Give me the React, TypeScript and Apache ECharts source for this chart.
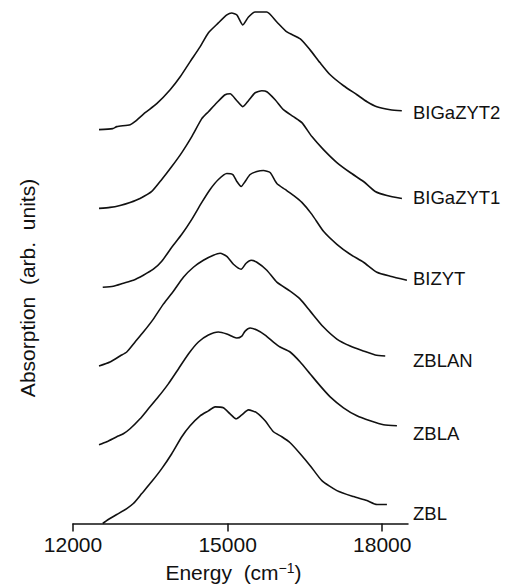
import React, { useEffect, useRef } from "react";
import * as echarts from "echarts";

// Energy (cm^-1) and absorption (arb. units, vertically offset) for each glass
const bigazyt2E = [12505, 12770, 12850, 13110, 13200, 13400, 13625, 13885, 14080, 14270, 14465, 14625, 14820, 14985, 15080, 15180, 15295, 15405, 15535, 15760, 15955, 16150, 16410, 16600, 16795, 16990, 17250, 17510, 17705, 17895, 18155, 18380];
const bigazyt2A = [395, 396, 398, 400, 403, 412, 421, 435, 448, 463, 478, 492, 502, 510, 512, 510, 500, 508, 513, 513, 503, 493, 486, 475, 462, 450, 439, 430, 423, 418, 415, 414];

const bigazyt1E = [12505, 12718, 12913, 13107, 13301, 13528, 13722, 13916, 14111, 14305, 14499, 14627, 14790, 14951, 15048, 15179, 15295, 15404, 15534, 15664, 15761, 15922, 16083, 16278, 16441, 16635, 16860, 17120, 17378, 17637, 17864, 18091, 18382];
const bigazyt1A = [316, 317, 319, 322, 326, 333, 345, 358, 372, 388, 406, 413, 422, 430, 431, 424, 418, 424, 432, 434, 433, 425, 415, 408, 402, 388, 375, 362, 352, 343, 333, 329, 326];

const bizytE = [12577, 12782, 12977, 13171, 13365, 13559, 13722, 13916, 14111, 14305, 14499, 14660, 14821, 14984, 15101, 15179, 15262, 15340, 15437, 15567, 15695, 15825, 15955, 16116, 16278, 16441, 16635, 16860, 17120, 17378, 17637, 17897, 18155, 18479];
const bizytA = [237, 238, 241, 244, 249, 255, 263, 277, 290, 305, 322, 335, 345, 351, 350, 343, 338, 343, 350, 353, 354, 352, 341, 335, 329, 322, 310, 293, 280, 270, 262, 252, 248, 244];

const zblanE = [12505, 12718, 12913, 13043, 13204, 13365, 13559, 13753, 13948, 14142, 14336, 14530, 14724, 14854, 14984, 15113, 15262, 15359, 15456, 15567, 15761, 15955, 16213, 16408, 16602, 16860, 17120, 17378, 17637, 17864, 18058];
const zblanA = [158, 162, 168, 172, 182, 192, 205, 220, 233, 247, 257, 264, 269, 271, 268, 260, 255, 261, 264, 262, 254, 242, 233, 225, 213, 197, 185, 178, 173, 169, 168];

const zblaE = [12505, 12654, 12849, 12977, 13107, 13301, 13462, 13656, 13850, 14045, 14239, 14433, 14627, 14821, 14984, 15113, 15179, 15276, 15340, 15437, 15567, 15728, 15889, 16019, 16213, 16408, 16602, 16796, 16990, 17248, 17509, 17767, 18025, 18285];
const zblaA = [79, 82, 87, 90, 95, 105, 115, 127, 140, 155, 170, 182, 189, 192, 190, 187, 186, 188, 193, 196, 194, 189, 182, 177, 172, 162, 150, 138, 127, 116, 108, 103, 99, 98];

const zblE = [12577, 12685, 12849, 13043, 13171, 13334, 13528, 13722, 13916, 14111, 14272, 14466, 14627, 14757, 14918, 15048, 15165, 15276, 15404, 15567, 15728, 15889, 16052, 16213, 16408, 16602, 16829, 17120, 17443, 17703, 17897, 18091];
const zblA = [0, 4, 9, 15, 20, 30, 42, 55, 70, 87, 98, 108, 113, 117, 116, 110, 105, 109, 114, 111, 103, 92, 87, 81, 70, 58, 43, 33, 27, 23, 19, 19];

const seriesNames = ["BIGaZYT2", "BIGaZYT1", "BIZYT", "ZBLAN", "ZBLA", "ZBL"];
const seriesE = [bigazyt2E, bigazyt1E, bizytE, zblanE, zblaE, zblE];
const seriesA = [bigazyt2A, bigazyt1A, bizytA, zblanA, zblaA, zblA];

const xTicks = [12000, 15000, 18000];

// label anchor rows (pixel y centers) for right-hand sample names
const labelY = [112, 197, 278, 360, 433, 513];

export default function App() {
  const ref = useRef<HTMLDivElement>(null);
  useEffect(() => {
    if (!ref.current) return;
    const chart = echarts.init(ref.current, null, { renderer: "svg" });
    const font = "'Liberation Sans', Arial, Helvetica, sans-serif";
    chart.setOption({
      animation: false,
      backgroundColor: "#ffffff",
      grid: { left: 73, right: 101, top: 5, bottom: 63, containLabel: false },
      xAxis: {
        type: "value",
        min: 12000,
        max: 18500,
        name: "Energy  (cm{sup|−1})",
        nameLocation: "middle",
        nameGap: 37,
        nameTextStyle: {
          fontFamily: font,
          fontSize: 21,
          color: "#111",
          padding: [0, 14, 0, 0],
          rich: {
            sup: { fontFamily: font, fontSize: 14, color: "#111", verticalAlign: "top", padding: [0, 0, 10, 0] },
          },
        },
        axisLine: { show: true, lineStyle: { color: "#111", width: 1.5 } },
        axisTick: { show: true, inside: false, length: 8, customValues: xTicks, lineStyle: { color: "#111", width: 1.5 } },
        axisLabel: {
          customValues: xTicks,
          formatter: (v: number) => String(v),
          fontFamily: font,
          fontSize: 21,
          color: "#111",
          margin: 10,
        },
        splitLine: { show: false },
      },
      yAxis: {
        type: "value",
        min: 0,
        max: 520,
        show: false,
      },
      graphic: [
        {
          type: "text",
          x: 27,
          y: 288,
          rotation: Math.PI / 2,
          style: {
            text: "Absorption  (arb.  units)",
            fontFamily: font,
            fontSize: 21,
            fill: "#111",
            align: "center",
            verticalAlign: "middle",
          },
        },
        ...seriesNames.map((n, i) => ({
          type: "text",
          x: 413,
          y: labelY[i],
          style: {
            text: n,
            fontFamily: font,
            fontSize: 18.5,
            fill: "#111",
            align: "left",
            verticalAlign: "middle",
          },
        })),
      ],
      series: seriesNames.map((n, i) => ({
        name: n,
        type: "line",
        showSymbol: false,
        symbol: "none",
        smooth: 0.2,
        clip: true,
        lineStyle: { color: "#111", width: 1.6 },
        data: seriesE[i].map((e, j) => [e, seriesA[i][j]]),
      })),
    });
    return () => chart.dispose();
  }, []);
  return <div ref={ref} style={{ position: "fixed", left: 0, top: 0, width: 509, height: 588, background: "#fff" }} />;
}
